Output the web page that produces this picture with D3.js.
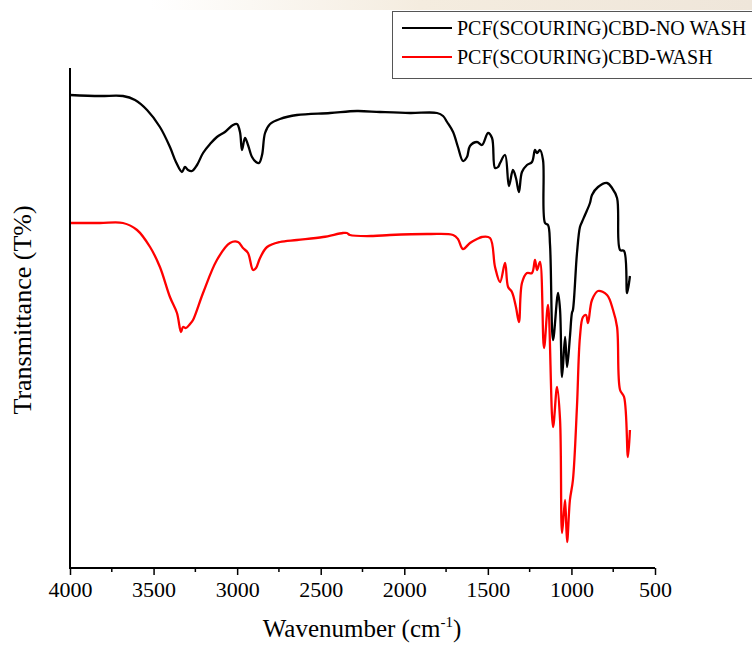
<!DOCTYPE html>
<html>
<head>
<meta charset="utf-8">
<script src="https://cdn.jsdelivr.net/npm/d3@7"></script>
<style>
  body { margin: 0; background: #fff; }
  text { font-family: "Liberation Serif", "Times New Roman", serif; fill: #000; }
</style>
</head>
<body>
<svg width="752" height="647"></svg>
<script>
// series: [wavenumber, transmittance (arbitrary units)]
const noWash = [
  [4000, 94.6], [3821, 94.4], [3683, 94.4], [3611, 93.6], [3539, 91.6], [3462, 88.2],
  [3402, 84.2], [3366, 81.2], [3330, 79.2], [3312, 80.2], [3294, 79.6], [3270, 79.4],
  [3240, 80.6], [3204, 83.0], [3162, 84.8], [3121, 86.2], [3073, 87.2], [3025, 88.6],
  [3001, 88.8], [2983, 87.2], [2971, 83.6], [2953, 86.0], [2935, 84.6], [2911, 82.2],
  [2887, 81.2], [2869, 81.0], [2851, 82.6], [2833, 87.0], [2803, 88.8], [2744, 89.8],
  [2642, 90.6], [2444, 91.0], [2283, 91.4], [2145, 91.2], [1966, 91.0], [1804, 91.0],
  [1768, 90.4], [1744, 89.2], [1708, 87.2], [1679, 84.2], [1649, 81.4], [1625, 82.2],
  [1607, 84.4], [1565, 85.2], [1535, 84.6], [1499, 87.0], [1475, 86.0], [1457, 80.0],
  [1439, 80.2], [1427, 81.0], [1397, 82.6], [1374, 76.4], [1350, 79.6], [1332, 78.0],
  [1314, 75.2], [1296, 79.2], [1266, 80.6], [1236, 81.2], [1218, 83.6], [1206, 83.0],
  [1188, 83.6], [1170, 81.6], [1158, 69.0], [1140, 68.6], [1128, 64.6], [1110, 45.6],
  [1080, 55.0], [1068, 51.6], [1056, 38.2], [1038, 46.2], [1026, 40.2], [1009, 46.2],
  [997, 51.0], [991, 51.6], [967, 62.9], [949, 68.2], [937, 69.2], [919, 70.6],
  [889, 73.0], [877, 74.6], [841, 76.2], [787, 77.0], [757, 76.0], [727, 74.0],
  [709, 63.6], [685, 63.4], [667, 55.0], [650, 58.4]
];

const wash = [
  [4000, 69.0], [3821, 69.0], [3683, 69.0], [3599, 67.6], [3521, 64.2], [3462, 60.2],
  [3402, 54.2], [3360, 51.0], [3336, 47.2], [3324, 48.2], [3306, 48.0], [3282, 48.8],
  [3264, 49.6], [3204, 55.0], [3121, 61.6], [3043, 65.0], [2995, 65.2], [2965, 64.0],
  [2935, 63.0], [2905, 59.6], [2887, 60.0], [2863, 62.0], [2821, 64.2], [2744, 65.2],
  [2642, 65.6], [2486, 66.2], [2367, 67.0], [2343, 67.0], [2325, 66.6], [2187, 66.4],
  [2086, 66.6], [1846, 66.8], [1708, 66.6], [1679, 65.8], [1649, 63.8], [1607, 65.0],
  [1565, 65.8], [1535, 66.2], [1487, 66.0], [1457, 60.2], [1427, 57.2], [1397, 61.0],
  [1379, 56.2], [1356, 55.2], [1332, 52.2], [1314, 49.2], [1296, 57.0], [1266, 59.0],
  [1236, 59.0], [1218, 61.6], [1206, 59.6], [1188, 61.2], [1164, 44.0], [1140, 52.6],
  [1110, 28.2], [1086, 36.2], [1068, 29.6], [1056, 7.0], [1038, 13.6], [1026, 5.2],
  [1009, 13.6], [991, 17.6], [967, 32.2], [949, 46.2], [931, 50.2], [913, 50.6],
  [901, 49.0], [877, 53.6], [841, 55.4], [787, 54.6], [751, 51.6], [727, 48.2],
  [709, 35.6], [685, 34.2], [662, 22.2], [650, 27.6]
];

const seriesNames = ["PCF(SCOURING)CBD-NO WASH", "PCF(SCOURING)CBD-WASH"];
const seriesColors = ["#000000", "#ff0000"];
const xTicks = [4000, 3500, 3000, 2500, 2000, 1500, 1000, 500];
const xMinorTicks = d3.range(3750, 500, -500);

const svg = d3.select("svg");

// faint header strip left over from the source page
const grad = svg.append("defs").append("linearGradient").attr("id", "hdr");
grad.append("stop").attr("offset", "0%").attr("stop-color", "#fff");
grad.append("stop").attr("offset", "45%").attr("stop-color", "#f4ecdf");
grad.append("stop").attr("offset", "100%").attr("stop-color", "#efe6da");
svg.append("rect").attr("x", 150).attr("y", 0).attr("width", 602).attr("height", 10)
  .attr("fill", "url(#hdr)");

const x = d3.scaleLinear().domain([4000, 500]).range([70, 655]);
const y = d3.scaleLinear().domain([0, 100]).range([568, 68]);

// curves
const line = d3.line()
  .x((d) => x(d[0]))
  .y((d) => y(d[1]))
  .curve(d3.curveCatmullRom.alpha(0.5));

[noWash, wash].forEach((s, i) => {
  svg.append("path")
    .attr("d", line(s))
    .attr("fill", "none")
    .attr("stroke", seriesColors[i])
    .attr("stroke-width", 2.3)
    .attr("stroke-linejoin", "round");
});

// axes
const xAxis = svg.append("g").attr("transform", "translate(0,568)")
  .call(d3.axisBottom(x).tickValues(xTicks).tickSize(7).tickPadding(6).tickFormat(d3.format("d")));
xAxis.select(".domain").attr("stroke-width", 2).attr("d", `M${x(4000)},0H${x(500)}`);
xAxis.selectAll(".tick line").attr("stroke-width", 1.5);
xAxis.selectAll(".tick text").attr("font-size", 22).attr("font-family", "Liberation Serif");

svg.append("g").selectAll("line").data(xMinorTicks).join("line")
  .attr("x1", (d) => x(d)).attr("x2", (d) => x(d))
  .attr("y1", 568).attr("y2", 572)
  .attr("stroke", "#000").attr("stroke-width", 1.5);

svg.append("line")
  .attr("x1", 70).attr("x2", 70).attr("y1", 68).attr("y2", 569)
  .attr("stroke", "#000").attr("stroke-width", 2);

// axis titles
const xt = svg.append("text").attr("x", 362).attr("y", 637)
  .attr("text-anchor", "middle").attr("font-size", 25);
xt.append("tspan").text("Wavenumber (cm");
xt.append("tspan").attr("dy", -10).attr("font-size", 15).text("-1");
xt.append("tspan").attr("dy", 10).text(")");

svg.append("text")
  .attr("transform", "translate(31,310) rotate(-90)")
  .attr("text-anchor", "middle").attr("font-size", 26)
  .text("Transmittance (T%)");

// legend
const lg = svg.append("g");
lg.append("rect").attr("x", 392.5).attr("y", 11.5).attr("width", 370).attr("height", 67)
  .attr("fill", "#fff").attr("stroke", "#555").attr("stroke-width", 1);
seriesNames.forEach((n, i) => {
  const ly = 28 + i * 29;
  lg.append("line").attr("x1", 402).attr("x2", 452).attr("y1", ly).attr("y2", ly)
    .attr("stroke", seriesColors[i]).attr("stroke-width", 2);
  lg.append("text").attr("x", 457).attr("y", ly + 7).attr("font-size", 20).text(n);
});
</script>
</body>
</html>
